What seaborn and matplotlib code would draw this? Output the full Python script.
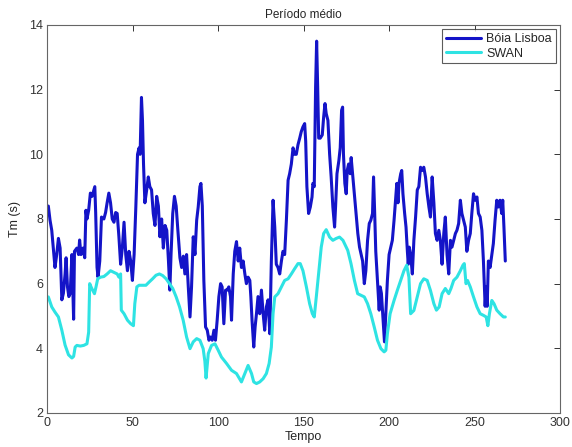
import matplotlib
matplotlib.use("Agg")
import matplotlib.pyplot as plt
import seaborn as sns
import pandas as pd

# ---- data ----
boia_x = [0.6, 1.6, 2.6, 4.5, 5.5, 6.5, 7.5, 8.5, 9.4, 10.4, 11.0, 11.8, 12.6, 13.4, 14.4, 15.4, 15.9,
          17.3, 18.3, 18.9, 19.7, 20.9, 21.9, 22.6, 23.2, 24.2, 25.2, 26.2, 27.2, 27.8, 28.3, 29.1, 29.7,
          30.7, 31.7, 33.1, 34.1, 35.0, 36.0, 37.0, 38.0, 39.0, 40.0, 40.9, 41.9, 42.9, 43.9, 44.9, 45.9,
          46.9, 47.8, 48.8, 49.8, 50.8, 51.8, 52.8, 53.7, 54.3, 55.1, 55.7, 56.3, 57.1, 58.1, 59.1, 60.0,
          61.0, 62.0, 63.0, 64.0, 65.0, 65.9, 66.9, 67.9, 68.9, 69.9, 70.9, 71.7, 72.4, 73.4, 74.4, 75.4,
          76.4, 77.6, 78.6, 79.6, 80.5, 81.5, 82.5, 83.5, 84.4, 85.4, 86.4, 87.4, 88.3, 89.3, 89.9, 90.7,
          91.6, 92.6, 93.6, 94.6, 95.5, 96.5, 97.5, 98.4, 99.4, 100.4, 101.4, 102.3, 103.3, 104.3, 105.3,
          106.2, 107.2, 107.8, 108.8, 109.7, 110.7, 111.7, 112.6, 113.6, 114.6, 115.6, 116.5, 117.5, 118.5,
          119.1, 119.8, 120.8, 121.6, 122.4, 123.3, 124.3, 125.3, 126.3, 127.2, 128.2, 129.2, 130.2, 131.1,
          132.1, 133.1, 134.0, 135.0, 136.0, 137.0, 137.9, 138.9, 139.9, 140.9, 141.8, 142.8, 143.8, 144.7,
          145.7, 146.7, 147.7, 148.6, 149.6, 150.6, 151.2, 151.9, 152.9, 153.9, 154.9, 155.4, 156.2, 157.0,
          157.6, 158.2, 158.8, 159.7, 160.9, 161.7, 162.5, 163.2, 164.2, 165.2, 166.1, 167.1, 168.1, 168.7,
          169.5, 170.6, 171.4, 172.2, 172.8, 173.3, 174.1, 174.9, 175.5, 176.3, 177.2, 177.8, 178.8, 179.8,
          180.7, 181.7, 182.7, 184.5, 185.5, 186.4, 187.4, 188.4, 189.3, 190.3, 190.9, 191.5, 192.2, 193.2,
          194.2, 194.8, 195.5, 196.1, 196.7, 197.3, 198.1, 199.0, 200.0, 201.0, 201.9, 202.9, 203.9, 204.5,
          205.2, 205.8, 206.8, 207.4, 208.1, 209.1, 209.9, 210.7, 211.2, 211.8, 212.6, 213.6, 214.5, 215.5,
          216.5, 217.4, 218.4, 219.4, 220.3, 221.3, 222.3, 223.3, 224.2, 225.2, 226.2, 227.1, 228.1, 229.1,
          230.0, 231.0, 232.0, 232.9, 233.9, 234.9, 235.9, 236.8, 237.8, 238.8, 239.7, 240.7, 241.7, 242.6,
          243.6, 244.6, 245.5, 246.5, 247.5, 248.4, 249.4, 250.4, 251.4, 252.3, 253.3, 254.3, 255.2, 256.2,
          256.8, 257.4, 258.1, 259.1, 260.1, 261.0, 262.0, 263.0, 263.9, 264.9, 265.9, 266.5, 267.2, 268.0]
boia_y = [8.4, 7.96, 7.65, 6.5, 6.9, 7.4, 7.1, 5.5, 5.7, 6.3, 6.8, 5.9, 5.6, 5.7, 6.9, 4.9, 7.0,
          7.1, 6.9, 7.35, 6.9, 7.1, 6.8, 8.27, 8.0, 8.27, 8.8, 8.7, 8.88, 9.0, 8.2, 6.5, 6.2,
          6.7, 8.06, 8.0, 8.2, 8.5, 8.8, 8.5, 8.0, 7.9, 8.2, 8.17, 7.45, 6.6, 7.1, 7.9, 6.9,
          6.4, 7.0, 6.7, 6.1, 6.9, 8.37, 10.0, 10.2, 10.0, 11.76, 11.04, 9.7, 8.5, 8.88, 9.3, 9.0,
          8.9, 8.17, 7.8, 8.7, 8.4, 7.45, 8.0, 7.1, 7.8, 7.65, 6.7, 5.8, 6.9, 8.17, 8.7, 8.4,
          7.65, 6.8, 6.5, 6.85, 6.3, 6.9, 5.9, 4.97, 5.9, 7.45, 6.9, 7.96, 8.37, 9.0, 9.1, 8.4,
          6.1, 4.66, 4.56, 4.25, 4.35, 4.25, 4.56, 4.25, 4.87, 5.6, 6.0, 5.9, 4.76, 5.8, 5.8,
          5.9, 5.6, 4.87, 6.3, 7.0, 7.3, 6.7, 7.1, 6.5, 6.7, 6.3, 6.0, 6.2, 6.1,
          5.6, 4.87, 4.04, 4.66, 5.07, 5.6, 5.07, 5.8, 5.07, 4.56, 5.28, 5.5, 4.45, 6.7,
          8.58, 7.75, 6.6, 6.5, 6.3, 6.7, 7.0, 6.9, 7.96, 9.2, 9.4, 9.7, 10.2, 10.0,
          10.0, 10.3, 10.5, 10.7, 10.85, 10.95, 10.4, 9.0, 8.17, 8.37, 8.68, 9.1, 9.0, 12.1,
          13.5, 12.1, 10.5, 10.5, 10.6, 11.15, 11.57, 11.26, 11.05, 10.0, 9.3, 8.37, 7.75, 8.4,
          9.4, 9.8, 10.2, 11.36, 11.46, 10.0, 9.1, 8.78, 9.5, 9.7, 9.4, 9.9, 9.3, 8.7,
          8.17, 7.55, 7.13, 6.7, 6.0, 6.4, 7.34, 7.86, 7.96, 8.17, 9.3, 8.3, 7.0, 6.1,
          5.18, 5.9, 5.7, 5.2, 4.66, 4.2, 5.1, 6.1, 6.9, 7.13, 7.34, 7.96, 8.68, 9.1,
          8.5, 9.1, 9.4, 9.5, 8.78, 8.17, 7.75, 7.0, 6.6, 7.13, 6.9, 6.3, 7.34, 8.06,
          8.9, 9.0, 9.6, 9.5, 9.6, 9.3, 8.78, 8.37, 8.06, 9.3, 8.5, 7.55, 7.34, 7.65,
          7.34, 6.6, 7.55, 8.06, 6.9, 6.3, 7.34, 7.13, 7.34, 7.55, 7.65, 7.86, 8.58, 8.17,
          7.96, 7.75, 7.0, 7.34, 7.55, 8.17, 8.78, 8.58, 8.68, 8.17, 8.06, 7.65, 6.7, 5.3,
          5.9, 5.3, 6.7, 6.5, 6.9, 7.24, 7.96, 8.58, 8.37, 8.58, 8.17, 8.58, 7.75, 6.7]

swan_x = [0.6, 2.6, 4.5, 6.5, 8.5, 10.4, 12.4, 14.4, 15.4, 16.3, 17.3, 19.3, 21.3, 23.2, 24.2, 24.8,
          25.6, 26.6, 27.6, 28.5, 29.5, 31.1, 33.1, 35.0, 37.0, 39.0, 40.9, 41.9, 42.9, 43.3, 44.9,
          46.9, 48.8, 50.4, 51.2, 52.4, 53.7, 55.7, 57.7, 59.6, 61.6, 63.6, 65.6, 67.5, 69.5, 71.5,
          73.4, 75.4, 77.4, 79.5, 81.5, 83.5, 85.4, 87.4, 89.3, 91.2, 92.2, 92.9, 94.2, 96.1, 98.1,
          100.0, 101.9, 104.9, 107.8, 110.7, 113.6, 115.6, 117.5, 119.5, 120.8, 122.4, 124.3, 126.3,
          128.2, 129.8, 131.1, 132.1, 133.1, 135.0, 137.0, 138.9, 140.9, 142.8, 144.7, 146.7, 148.0,
          149.6, 151.6, 153.5, 155.1, 156.2, 157.4, 158.9, 160.3, 161.7, 163.2, 165.2, 167.1, 169.1,
          171.0, 173.0, 175.8, 177.7, 179.7, 181.6, 183.5, 185.5, 187.4, 189.3, 191.3, 193.2, 195.2,
          197.1, 198.1, 199.0, 200.6, 202.9, 204.8, 206.8, 208.7, 210.3, 211.6, 212.6, 214.5, 216.5,
          218.4, 220.3, 222.3, 224.2, 226.2, 227.7, 229.3, 231.0, 232.9, 234.9, 236.2, 237.8, 239.7,
          241.7, 243.2, 244.0, 245.0, 245.9, 247.5, 249.4, 251.4, 253.3, 255.2, 256.8, 257.8, 258.7,
          260.1, 261.4, 263.0, 264.9, 266.9, 268.0]
swan_y = [5.59, 5.28, 5.12, 4.97, 4.56, 4.1, 3.8, 3.7, 3.75, 4.04, 4.09, 4.07, 4.09, 4.14, 4.5, 6.0,
          5.9, 5.79, 5.69, 5.9, 6.15, 6.2, 6.22, 6.3, 6.4, 6.35, 6.3, 6.2, 6.3, 5.18, 5.07,
          4.87, 4.76, 4.7, 5.38, 5.9, 5.95, 5.95, 5.95, 6.05, 6.15, 6.26, 6.3, 6.25, 6.15, 6.0,
          5.85, 5.59, 5.28, 4.87, 4.35, 3.99, 4.2, 4.3, 4.25, 3.99, 3.6, 3.08, 3.84, 4.09, 4.14,
          3.94, 3.73, 3.53, 3.32, 3.22, 2.96, 3.22, 3.47, 3.22, 2.96, 2.91, 2.96, 3.06,
          3.22, 3.53, 4.04, 5.07, 5.59, 5.69, 5.9, 6.1, 6.15, 6.3, 6.46, 6.62, 6.62,
          6.4, 5.9, 5.38, 5.07, 4.97, 5.59, 6.4, 7.13, 7.55, 7.67, 7.44, 7.34, 7.4,
          7.44, 7.34, 7.03, 6.62, 6.1, 5.69, 5.64, 5.59, 5.38, 5.07, 4.66, 4.25, 3.99,
          3.89, 3.94, 4.45, 5.07, 5.48, 5.79, 6.1, 6.4, 6.57, 6.2, 5.07, 5.17, 5.59,
          6.0, 6.15, 6.1, 5.79, 5.38, 5.18, 5.28, 5.69, 5.85, 5.69, 5.85, 6.1, 6.2,
          6.4, 6.57, 6.62, 6.0, 6.1, 5.9, 5.59, 5.28, 5.07, 5.02, 4.97, 4.7, 5.07,
          5.48, 5.38, 5.18, 5.07, 4.97, 4.97]

x_ticks = [0, 50, 100, 150, 200, 250, 300]
y_ticks = [2, 4, 6, 8, 10, 12, 14]

# ---- figure ----
sns.set_style("white")
plt.rcParams["font.family"] = ["Liberation Sans", "DejaVu Sans"]

fig = plt.figure(figsize=(5.72, 4.47), dpi=100)
ax = fig.add_axes([0.0827, 0.0761, 0.8963, 0.868])

df_b = pd.DataFrame({"Tempo": boia_x, "Tm": boia_y})
df_s = pd.DataFrame({"Tempo": swan_x, "Tm": swan_y})

sns.lineplot(data=df_b, x="Tempo", y="Tm", ax=ax, color="#1414C8", lw=2.2,
             label="Bóia Lisboa", estimator=None, sort=False)
sns.lineplot(data=df_s, x="Tempo", y="Tm", ax=ax, color="#2EE3E3", lw=2.2,
             label="SWAN", estimator=None, sort=False)

ax.set_xlim(0, 300)
ax.set_ylim(2, 14)
ax.set_xticks(x_ticks)
ax.set_yticks(y_ticks)
ax.tick_params(direction="in", top=True, right=True, length=4, width=0.7,
               labelsize=9, colors="#333333", pad=3)
for s in ax.spines.values():
    s.set_color("#666666")
    s.set_linewidth(0.8)

ax.set_title("Período médio", fontsize=8.5, pad=5)
ax.set_xlabel("Tempo", fontsize=9, labelpad=1)
ax.set_ylabel("Tm (s)", fontsize=9, labelpad=6)

leg = ax.legend(loc="upper right", fontsize=9, frameon=True, fancybox=False,
                handlelength=2.8, borderpad=0.3, labelspacing=0.2,
                borderaxespad=0.35, handletextpad=0.4)
leg.get_frame().set_edgecolor("#333333")
leg.get_frame().set_linewidth(0.8)

fig.savefig("out.png", dpi=100, facecolor="white")
